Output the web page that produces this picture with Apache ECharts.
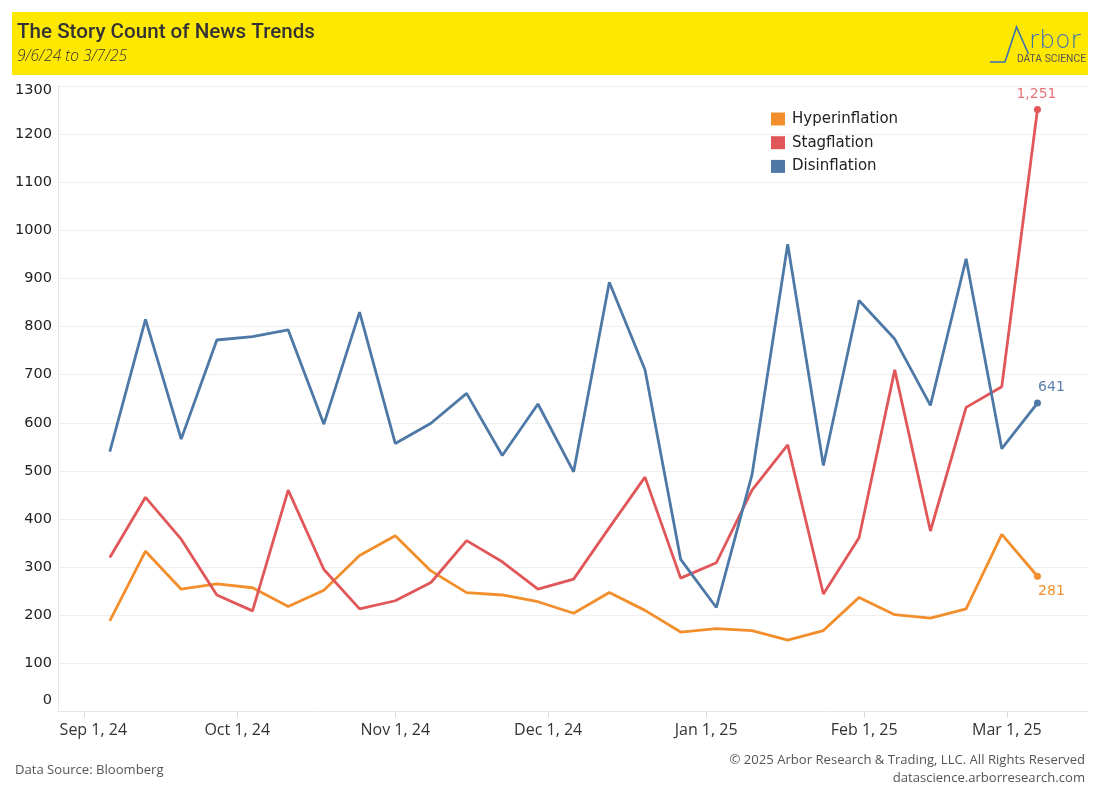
<!DOCTYPE html>
<html><head><meta charset="utf-8">
<script src="https://cdn.jsdelivr.net/npm/echarts@6/dist/echarts.min.js"></script>
<style>html,body{margin:0;padding:0;background:#fff}#c{width:1100px;height:800px}</style>
</head><body><div id="c"></div><script>
const weeks = ['2024-09-06','2024-09-13','2024-09-20','2024-09-27','2024-10-04','2024-10-11','2024-10-18','2024-10-25',
  '2024-11-01','2024-11-08','2024-11-15','2024-11-22','2024-11-29','2024-12-06','2024-12-13','2024-12-20','2024-12-27',
  '2025-01-03','2025-01-10','2025-01-17','2025-01-24','2025-01-31','2025-02-07','2025-02-14','2025-02-21','2025-02-28','2025-03-07'];
const hyperinflation = [188,333,254,265,257,218,252,324,365,292,247,242,228,204,247,210,165,172,168,148,168,237,201,194,213,368,281];
const stagflation = [320,445,358,242,209,460,295,213,230,268,355,311,254,275,382,487,277,309,460,554,244,361,710,375,632,675,1251];
const disinflation = [540,815,566,772,779,793,597,830,557,599,661,532,639,498,892,710,316,216,492,971,511,854,774,636,941,546,641];
const seriesNames = ['Hyperinflation','Stagflation','Disinflation'];
const colors = ['#f28e2b','#e15759','#4e79a7'];
const labelColors = ['#f28e2b','#e8767b','#5b7fae'];
const monthNames = ['Jan','Feb','Mar','Apr','May','Jun','Jul','Aug','Sep','Oct','Nov','Dec'];
const DAY = 86400000;

const chart = echarts.init(document.getElementById('c'), null, {renderer:'canvas'});
const labelPos = [
  {position:'bottom', distance:5, offset:[14,0]},
  {position:'top', distance:5, offset:[-1,0]},
  {position:'top', distance:5, offset:[14,0]}
];
function mk(vals, idx){
  const last = vals.length-1;
  return {
    name: seriesNames[idx], type:'line', color: colors[idx],
    lineStyle:{width:2.8, color: colors[idx]},
    symbol:'circle', showSymbol:true,
    symbolSize:(v,p)=> p.dataIndex===last?7:0,
    emphasis:{disabled:true},
    animation:false,
    data: vals.map((v,i)=> i===last ? {value:[weeks[i],v], label:Object.assign({show:true, color:labelColors[idx],
      fontFamily:'DejaVu Sans', fontSize:14, formatter:(p)=>p.value[1].toLocaleString('en-US')}, labelPos[idx])} : [weeks[i],v])
  };
}
chart.setOption({
  backgroundColor:'#fff',
  animation:false,
  grid:{left:58, right:12, top:86, bottom:88.6, containLabel:false},
  legend:{
    show:true, orient:'vertical', left:766, top:106.5, itemWidth:14, itemHeight:13, itemGap:8.7,
    icon:'rect', data:seriesNames,
    textStyle:{fontFamily:'DejaVu Sans', fontSize:15, color:'#222', padding:[0,0,0,2]},
    selectedMode:false
  },
  xAxis:{
    type:'time',
    min:'2024-08-26 20:00', max:'2025-03-16 22:00',
    splitNumber:7, minInterval:28*DAY, maxInterval:31*DAY,
    axisLine:{show:true, lineStyle:{color:'#e6e6e6', width:1}},
    axisTick:{show:true, length:6, lineStyle:{color:'#d9d9d9'}},
    splitLine:{show:false},
    axisLabel:{
      showMinLabel:false, showMaxLabel:false, margin:11,
      fontFamily:'Open Sans', fontSize:16, color:'#333',
      formatter:(v)=>{const d=new Date(v); if(d.getDate()!==1) return '';
        const s = monthNames[d.getMonth()]+' 1, '+String(d.getFullYear()).slice(2);
        return d.getMonth()===8 ? '{s|'+s+'}' : s;},
      rich:{s:{fontFamily:'Open Sans', fontSize:16, color:'#333', padding:[0,0,0,18]}}
    }
  },
  yAxis:{
    type:'value', min:0, max:1300, interval:100,
    axisLine:{show:true, lineStyle:{color:'#e6e6e6'}},
    axisTick:{show:false},
    splitLine:{show:true, lineStyle:{color:'#efefef', width:1}},
    axisLabel:{
      margin:6, fontFamily:'DejaVu Sans', fontSize:14.5, color:'#222',
      formatter:(v)=> v===0 ? '{z|0}' : (v===1300 ? '{t|1300}' : String(v)),
      rich:{
        z:{fontFamily:'DejaVu Sans', fontSize:14.5, color:'#222', padding:[0,0,22,0]},
        t:{fontFamily:'DejaVu Sans', fontSize:14.5, color:'#222', padding:[8,0,0,0]}
      }
    }
  },
  series:[mk(hyperinflation,0), mk(stagflation,1), mk(disinflation,2)],
  graphic:[
    {type:'rect', shape:{x:12,y:12,width:1076,height:63}, style:{fill:'#ffe800'}, z:10, silent:true},
    {type:'text', x:17, y:33, z:11, style:{text:'The Story Count of News Trends', font:'500 20.6px Roboto', fill:'#333', verticalAlign:'middle'}},
    {type:'text', x:17, y:57, z:11, style:{text:'9/6/24 to 3/7/25', font:'italic 300 15.5px "Open Sans"', fill:'#333', verticalAlign:'middle'}},
    {type:'polyline', z:11, shape:{points:[[990,62],[1005,62],[1016.5,27],[1028.5,54]]}, style:{stroke:'#3d6fb0', lineWidth:1.6, fill:null}},
    {type:'text', x:1029, y:41, z:11, style:{text:'rbor', font:'200 25px "DejaVu Sans"', fill:'#3d6fb0', verticalAlign:'middle'}},
    {type:'text', x:1086, y:59, z:11, style:{text:'DATA SCIENCE', font:'10.3px Roboto', fill:'#555', align:'right', verticalAlign:'middle'}},
    {type:'text', x:15, y:770, style:{text:'Data Source: Bloomberg', font:'13.1px "Open Sans"', fill:'#555', verticalAlign:'middle'}},
    {type:'text', x:1085, y:760, style:{text:'\u00a9 2025 Arbor Research & Trading, LLC. All Rights Reserved', font:'13.1px "Open Sans"', fill:'#555', align:'right', verticalAlign:'middle'}},
    {type:'text', x:1085, y:778, style:{text:'datascience.arborresearch.com', font:'13.1px "Open Sans"', fill:'#555', align:'right', verticalAlign:'middle'}}
  ]
});
</script></body></html>
